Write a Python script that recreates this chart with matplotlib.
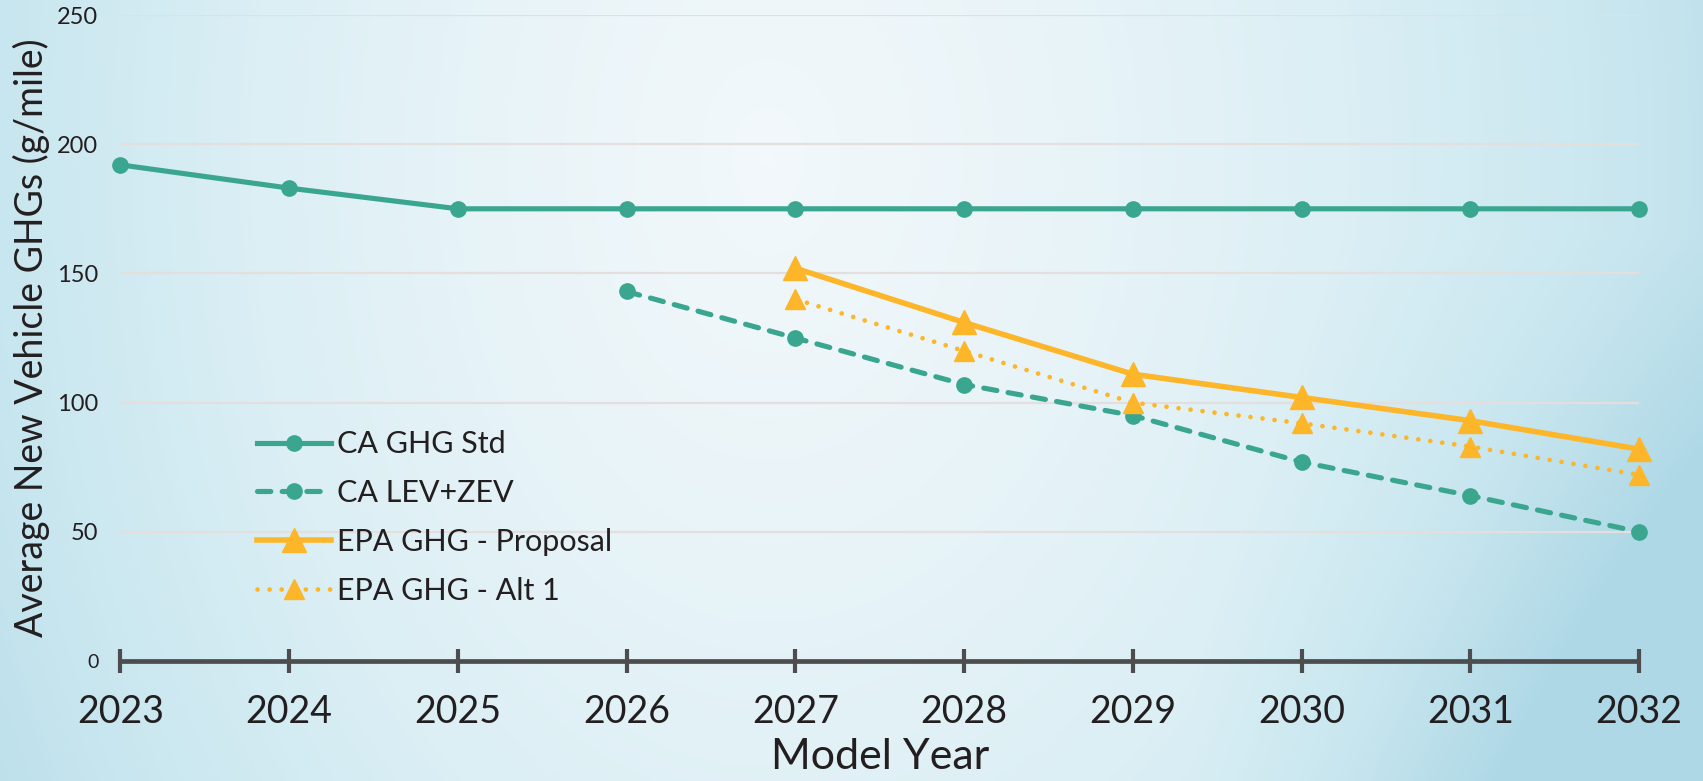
import matplotlib.pyplot as plt
import numpy as np
from matplotlib.colors import LinearSegmentedColormap

plt.rcParams["font.family"] = ["Lato", "DejaVu Sans"]

YEARS = [2023, 2024, 2025, 2026, 2027, 2028, 2029, 2030, 2031, 2032]

CA_GHG_STD = [192, 183, 175, 175, 175, 175, 175, 175, 175, 175]

LEV_ZEV_YEARS = [2026, 2027, 2028, 2029, 2030, 2031, 2032]
CA_LEV_ZEV = [143, 125, 107, 95, 77, 64, 50]

EPA_YEARS = [2027, 2028, 2029, 2030, 2031, 2032]
EPA_PROPOSAL = [152, 131, 111, 102, 93, 82]
EPA_ALT1 = [140, 120, 100, 92, 83, 72]

Y_TICKS = [0, 50, 100, 150, 200, 250]

TEAL = "#3aa690"
ORANGE = "#fdb629"
AXIS_GREY = "#4d4d4f"
GRID = "#e4dfdd"
TEXT = "#231f20"

W, H = 1703, 781
fig = plt.figure(figsize=(W / 100, H / 100), dpi=100)

# pale blue wash: near white in the upper middle, deeper toward the lower right
bg = fig.add_axes([0, 0, 1, 1], zorder=-1)
gx, gy = np.meshgrid(np.linspace(0, 1, 400), np.linspace(1, 0, 200))
rx = np.where(gx < 0.45, (gx - 0.45) / 0.55, (gx - 0.45) / 0.62)
r = np.sqrt(rx ** 2 + ((gy - 0.8) / 1.8) ** 2)
r += 0.7 * np.clip(gx - 0.7, 0, None) * np.clip(0.7 - gy, 0, None) * 3
cmap = LinearSegmentedColormap.from_list(
    "wash", ["#f2f8fb", "#e9f4f8", "#dbeff5", "#c8e6ef", "#aed8e6"]
)
bg.imshow(np.clip(r, 0, 1.1) / 1.1, cmap=cmap, aspect="auto",
          extent=[0, 1, 0, 1], interpolation="bicubic")
bg.axis("off")

left, right = 120.5 / W, 1639 / W
bottom, top = (H - 661) / H, (H - 15) / H
ax = fig.add_axes([left, bottom, right - left, top - bottom])
ax.set_facecolor("none")

ax.plot(YEARS, CA_GHG_STD, color=TEAL, lw=3.7, marker="o", ms=11,
        label="CA GHG Std", clip_on=False, zorder=3)
ax.plot(LEV_ZEV_YEARS, CA_LEV_ZEV, color=TEAL, lw=3.7, marker="o", ms=11,
        dashes=(2.6, 2.2), dash_capstyle="round",
        label="CA LEV+ZEV", clip_on=False, zorder=3)
ax.plot(EPA_YEARS, EPA_PROPOSAL, color=ORANGE, lw=4.0, marker="^", ms=17,
        label="EPA GHG - Proposal", clip_on=False, zorder=4)
ax.plot(EPA_YEARS, EPA_ALT1, color=ORANGE, lw=3.4, marker="^", ms=15,
        dashes=(0.01, 2.55), dash_capstyle="round",
        label="EPA GHG - Alt 1", clip_on=False, zorder=5)

ax.set_xlim(YEARS[0], YEARS[-1])
ax.set_ylim(0, 250)
ax.set_xticks(YEARS)
ax.set_xticklabels([str(y) for y in YEARS], fontsize=27, color=TEXT)
ax.set_yticks(Y_TICKS)
ax.set_yticklabels([str(v) for v in Y_TICKS], fontsize=17, color=TEXT)
ax.get_yticklabels()[0].set_fontsize(14)

for v in Y_TICKS[1:]:
    ax.axhline(v, color=GRID, lw=1.6, zorder=1)

for side in ("top", "right", "left"):
    ax.spines[side].set_visible(False)
ax.spines["bottom"].set_color(AXIS_GREY)
ax.spines["bottom"].set_linewidth(3.4)
ax.spines["bottom"].set_capstyle("butt")
ax.tick_params(axis="x", direction="inout", length=17, width=3.0,
               color=AXIS_GREY, pad=15)
ax.tick_params(axis="y", length=0, pad=16)

ax.set_xlabel("Model Year", fontsize=31, color=TEXT, labelpad=6)
ax.set_ylabel("Average New Vehicle GHGs (g/mile)", fontsize=27,
              color=TEXT, labelpad=5)

leg = ax.legend(loc="upper left", bbox_to_anchor=(245 / W, (H - 418) / H),
                bbox_transform=fig.transFigure, frameon=False, fontsize=22,
                handlelength=2.42, handletextpad=0.2, labelspacing=0.68,
                borderaxespad=0)
for t in leg.get_texts():
    t.set_color(TEXT)

fig.savefig("out.png", dpi=100)
